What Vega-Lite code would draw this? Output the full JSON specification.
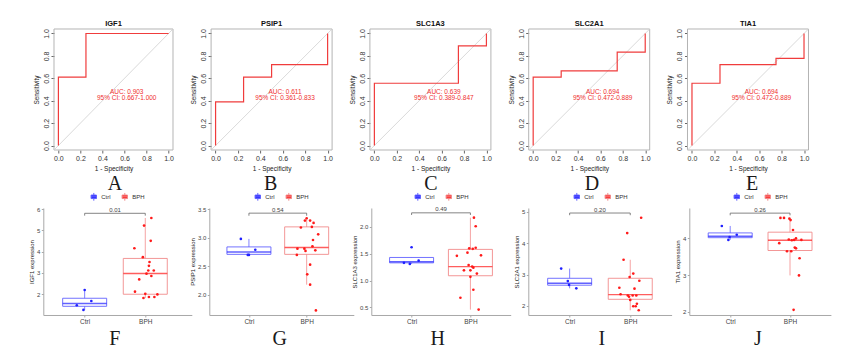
{
"$schema": "https://vega.github.io/schema/vega-lite/v6.json",
"background": "white",
"padding": {"left": 28.3, "top": 19, "right": 5, "bottom": 5},
"config": {
  "font": "Liberation Sans",
  "view": {"stroke": null},
  "axis": {"grid": false, "labelFont": "Liberation Sans", "titleFont": "Liberation Sans", "titleFontWeight": "normal", "labelOverlap": false, "labelFlush": false, "tickCount": 20},
  "title": {"font": "Liberation Sans"},
  "legend": {"layout": {"top": {"anchor": "middle"}}}
},
"datasets": {
  "auc": [
    {"gene": "IGF1", "auc": "AUC: 0.903", "ci": "95% CI: 0.667-1.000"},
    {"gene": "PSIP1", "auc": "AUC: 0.611", "ci": "95% CI: 0.361-0.833"},
    {"gene": "SLC1A3", "auc": "AUC: 0.639", "ci": "95% CI: 0.389-0.847"},
    {"gene": "SLC2A1", "auc": "AUC: 0.694", "ci": "95% CI: 0.472-0.889"},
    {"gene": "TIA1", "auc": "AUC: 0.694", "ci": "95% CI: 0.472-0.889"}
  ],
  "roc": [
    {"gene": "IGF1", "step": 1, "fpr": 0, "tpr": 0},
    {"gene": "IGF1", "step": 2, "fpr": 0, "tpr": 0.611},
    {"gene": "IGF1", "step": 3, "fpr": 0.25, "tpr": 0.611},
    {"gene": "IGF1", "step": 4, "fpr": 0.25, "tpr": 1},
    {"gene": "IGF1", "step": 5, "fpr": 1, "tpr": 1},
    {"gene": "PSIP1", "step": 1, "fpr": 0, "tpr": 0},
    {"gene": "PSIP1", "step": 2, "fpr": 0, "tpr": 0.389},
    {"gene": "PSIP1", "step": 3, "fpr": 0.25, "tpr": 0.389},
    {"gene": "PSIP1", "step": 4, "fpr": 0.25, "tpr": 0.611},
    {"gene": "PSIP1", "step": 5, "fpr": 0.5, "tpr": 0.611},
    {"gene": "PSIP1", "step": 6, "fpr": 0.5, "tpr": 0.722},
    {"gene": "PSIP1", "step": 7, "fpr": 1, "tpr": 0.722},
    {"gene": "PSIP1", "step": 8, "fpr": 1, "tpr": 1},
    {"gene": "SLC1A3", "step": 1, "fpr": 0, "tpr": 0},
    {"gene": "SLC1A3", "step": 2, "fpr": 0, "tpr": 0.556},
    {"gene": "SLC1A3", "step": 3, "fpr": 0.75, "tpr": 0.556},
    {"gene": "SLC1A3", "step": 4, "fpr": 0.75, "tpr": 0.889},
    {"gene": "SLC1A3", "step": 5, "fpr": 1, "tpr": 0.889},
    {"gene": "SLC1A3", "step": 6, "fpr": 1, "tpr": 1},
    {"gene": "SLC2A1", "step": 1, "fpr": 0, "tpr": 0},
    {"gene": "SLC2A1", "step": 2, "fpr": 0, "tpr": 0.611},
    {"gene": "SLC2A1", "step": 3, "fpr": 0.25, "tpr": 0.611},
    {"gene": "SLC2A1", "step": 4, "fpr": 0.25, "tpr": 0.667},
    {"gene": "SLC2A1", "step": 5, "fpr": 0.75, "tpr": 0.667},
    {"gene": "SLC2A1", "step": 6, "fpr": 0.75, "tpr": 0.833},
    {"gene": "SLC2A1", "step": 7, "fpr": 1, "tpr": 0.833},
    {"gene": "SLC2A1", "step": 8, "fpr": 1, "tpr": 1},
    {"gene": "TIA1", "step": 1, "fpr": 0, "tpr": 0},
    {"gene": "TIA1", "step": 2, "fpr": 0, "tpr": 0.556},
    {"gene": "TIA1", "step": 3, "fpr": 0.25, "tpr": 0.556},
    {"gene": "TIA1", "step": 4, "fpr": 0.25, "tpr": 0.722},
    {"gene": "TIA1", "step": 5, "fpr": 0.75, "tpr": 0.722},
    {"gene": "TIA1", "step": 6, "fpr": 0.75, "tpr": 0.778},
    {"gene": "TIA1", "step": 7, "fpr": 1, "tpr": 0.778},
    {"gene": "TIA1", "step": 8, "fpr": 1, "tpr": 1}
  ],
  "box": [
    {"gene": "IGF1", "group": "Ctrl", "pos": 1, "lower": 1.25, "q1": 1.42, "median": 1.55, "q3": 1.80, "upper": 2.19},
    {"gene": "IGF1", "group": "BPH", "pos": 2, "lower": 1.81, "q1": 1.99, "median": 2.97, "q3": 3.68, "upper": 5.59},
    {"gene": "PSIP1", "group": "Ctrl", "pos": 1, "lower": 2.70, "q1": 2.71, "median": 2.75, "q3": 2.84, "upper": 2.98},
    {"gene": "PSIP1", "group": "BPH", "pos": 2, "lower": 2.18, "q1": 2.71, "median": 2.83, "q3": 3.19, "upper": 3.34},
    {"gene": "SLC1A3", "group": "Ctrl", "pos": 1, "lower": 1.31, "q1": 1.33, "median": 1.35, "q3": 1.43, "upper": 1.43},
    {"gene": "SLC1A3", "group": "BPH", "pos": 2, "lower": 0.46, "q1": 1.09, "median": 1.26, "q3": 1.58, "upper": 2.17},
    {"gene": "SLC2A1", "group": "Ctrl", "pos": 1, "lower": 2.56, "q1": 2.66, "median": 2.72, "q3": 2.88, "upper": 3.19},
    {"gene": "SLC2A1", "group": "BPH", "pos": 2, "lower": 1.86, "q1": 2.21, "median": 2.36, "q3": 2.88, "upper": 3.47},
    {"gene": "TIA1", "group": "Ctrl", "pos": 1, "lower": 3.96, "q1": 4.02, "median": 4.06, "q3": 4.15, "upper": 4.34},
    {"gene": "TIA1", "group": "BPH", "pos": 2, "lower": 2.99, "q1": 3.67, "median": 3.95, "q3": 4.17, "upper": 4.56}
  ],
  "sig": [
    {"gene": "IGF1", "p": "0.01", "y": 5.81, "yend": 5.70},
    {"gene": "PSIP1", "p": "0.54", "y": 3.43, "yend": 3.385},
    {"gene": "SLC1A3", "p": "0.49", "y": 2.26, "yend": 2.22},
    {"gene": "SLC2A1", "p": "0.20", "y": 4.96, "yend": 4.89},
    {"gene": "TIA1", "p": "0.26", "y": 4.69, "yend": 4.63}
  ],
  "pts": [
    {"gene": "IGF1", "group": "Ctrl", "x": 1.00, "value": 2.19},
    {"gene": "IGF1", "group": "Ctrl", "x": 1.11, "value": 1.67},
    {"gene": "IGF1", "group": "Ctrl", "x": 0.87, "value": 1.47},
    {"gene": "IGF1", "group": "Ctrl", "x": 0.98, "value": 1.25},
    {"gene": "IGF1", "group": "BPH", "x": 2.10, "value": 5.59},
    {"gene": "IGF1", "group": "BPH", "x": 1.98, "value": 5.23},
    {"gene": "IGF1", "group": "BPH", "x": 2.09, "value": 4.51},
    {"gene": "IGF1", "group": "BPH", "x": 1.82, "value": 4.16},
    {"gene": "IGF1", "group": "BPH", "x": 1.96, "value": 3.74},
    {"gene": "IGF1", "group": "BPH", "x": 2.07, "value": 3.51},
    {"gene": "IGF1", "group": "BPH", "x": 2.06, "value": 3.33},
    {"gene": "IGF1", "group": "BPH", "x": 2.05, "value": 3.11},
    {"gene": "IGF1", "group": "BPH", "x": 2.14, "value": 3.11},
    {"gene": "IGF1", "group": "BPH", "x": 2.10, "value": 2.85},
    {"gene": "IGF1", "group": "BPH", "x": 1.90, "value": 2.69},
    {"gene": "IGF1", "group": "BPH", "x": 1.83, "value": 2.11},
    {"gene": "IGF1", "group": "BPH", "x": 2.00, "value": 2.01},
    {"gene": "IGF1", "group": "BPH", "x": 2.20, "value": 1.98},
    {"gene": "IGF1", "group": "BPH", "x": 1.97, "value": 1.81},
    {"gene": "IGF1", "group": "BPH", "x": 2.06, "value": 1.86},
    {"gene": "IGF1", "group": "BPH", "x": 2.15, "value": 1.86},
    {"gene": "IGF1", "group": "BPH", "x": 2.02, "value": 2.96},
    {"gene": "PSIP1", "group": "Ctrl", "x": 0.86, "value": 2.98},
    {"gene": "PSIP1", "group": "Ctrl", "x": 1.11, "value": 2.79},
    {"gene": "PSIP1", "group": "Ctrl", "x": 0.98, "value": 2.70},
    {"gene": "PSIP1", "group": "Ctrl", "x": 1.00, "value": 2.70},
    {"gene": "PSIP1", "group": "BPH", "x": 2.00, "value": 3.34},
    {"gene": "PSIP1", "group": "BPH", "x": 2.06, "value": 3.30},
    {"gene": "PSIP1", "group": "BPH", "x": 1.97, "value": 3.30},
    {"gene": "PSIP1", "group": "BPH", "x": 2.12, "value": 3.26},
    {"gene": "PSIP1", "group": "BPH", "x": 1.90, "value": 3.18},
    {"gene": "PSIP1", "group": "BPH", "x": 2.09, "value": 3.19},
    {"gene": "PSIP1", "group": "BPH", "x": 2.20, "value": 3.06},
    {"gene": "PSIP1", "group": "BPH", "x": 2.11, "value": 2.96},
    {"gene": "PSIP1", "group": "BPH", "x": 2.10, "value": 2.85},
    {"gene": "PSIP1", "group": "BPH", "x": 1.84, "value": 2.81},
    {"gene": "PSIP1", "group": "BPH", "x": 1.96, "value": 2.81},
    {"gene": "PSIP1", "group": "BPH", "x": 1.98, "value": 2.77},
    {"gene": "PSIP1", "group": "BPH", "x": 2.15, "value": 2.78},
    {"gene": "PSIP1", "group": "BPH", "x": 1.83, "value": 2.70},
    {"gene": "PSIP1", "group": "BPH", "x": 2.06, "value": 2.53},
    {"gene": "PSIP1", "group": "BPH", "x": 2.01, "value": 2.36},
    {"gene": "PSIP1", "group": "BPH", "x": 2.06, "value": 2.18},
    {"gene": "PSIP1", "group": "BPH", "x": 2.16, "value": 1.73},
    {"gene": "SLC1A3", "group": "Ctrl", "x": 1.00, "value": 1.62},
    {"gene": "SLC1A3", "group": "Ctrl", "x": 0.87, "value": 1.33},
    {"gene": "SLC1A3", "group": "Ctrl", "x": 1.12, "value": 1.37},
    {"gene": "SLC1A3", "group": "Ctrl", "x": 0.97, "value": 1.31},
    {"gene": "SLC1A3", "group": "BPH", "x": 2.06, "value": 2.17},
    {"gene": "SLC1A3", "group": "BPH", "x": 2.09, "value": 2.01},
    {"gene": "SLC1A3", "group": "BPH", "x": 1.98, "value": 1.60},
    {"gene": "SLC1A3", "group": "BPH", "x": 2.09, "value": 1.61},
    {"gene": "SLC1A3", "group": "BPH", "x": 2.04, "value": 1.59},
    {"gene": "SLC1A3", "group": "BPH", "x": 1.95, "value": 1.52},
    {"gene": "SLC1A3", "group": "BPH", "x": 2.18, "value": 1.47},
    {"gene": "SLC1A3", "group": "BPH", "x": 1.77, "value": 1.46},
    {"gene": "SLC1A3", "group": "BPH", "x": 1.97, "value": 1.29},
    {"gene": "SLC1A3", "group": "BPH", "x": 2.05, "value": 1.24},
    {"gene": "SLC1A3", "group": "BPH", "x": 1.89, "value": 1.19},
    {"gene": "SLC1A3", "group": "BPH", "x": 2.00, "value": 1.19},
    {"gene": "SLC1A3", "group": "BPH", "x": 2.11, "value": 1.13},
    {"gene": "SLC1A3", "group": "BPH", "x": 2.00, "value": 1.07},
    {"gene": "SLC1A3", "group": "BPH", "x": 2.05, "value": 0.83},
    {"gene": "SLC1A3", "group": "BPH", "x": 1.83, "value": 0.68},
    {"gene": "SLC1A3", "group": "BPH", "x": 2.14, "value": 0.46},
    {"gene": "SLC1A3", "group": "BPH", "x": 2.03, "value": 1.26},
    {"gene": "SLC2A1", "group": "Ctrl", "x": 0.86, "value": 3.19},
    {"gene": "SLC2A1", "group": "Ctrl", "x": 0.97, "value": 2.79},
    {"gene": "SLC2A1", "group": "Ctrl", "x": 0.99, "value": 2.67},
    {"gene": "SLC2A1", "group": "Ctrl", "x": 1.11, "value": 2.56},
    {"gene": "SLC2A1", "group": "BPH", "x": 2.18, "value": 4.81},
    {"gene": "SLC2A1", "group": "BPH", "x": 1.95, "value": 4.32},
    {"gene": "SLC2A1", "group": "BPH", "x": 1.89, "value": 3.47},
    {"gene": "SLC2A1", "group": "BPH", "x": 2.05, "value": 3.03},
    {"gene": "SLC2A1", "group": "BPH", "x": 1.99, "value": 2.92},
    {"gene": "SLC2A1", "group": "BPH", "x": 2.15, "value": 2.80},
    {"gene": "SLC2A1", "group": "BPH", "x": 1.82, "value": 2.58},
    {"gene": "SLC2A1", "group": "BPH", "x": 2.07, "value": 2.55},
    {"gene": "SLC2A1", "group": "BPH", "x": 1.84, "value": 2.37},
    {"gene": "SLC2A1", "group": "BPH", "x": 1.96, "value": 2.33},
    {"gene": "SLC2A1", "group": "BPH", "x": 1.98, "value": 2.29},
    {"gene": "SLC2A1", "group": "BPH", "x": 2.04, "value": 2.33},
    {"gene": "SLC2A1", "group": "BPH", "x": 2.10, "value": 2.33},
    {"gene": "SLC2A1", "group": "BPH", "x": 2.00, "value": 2.19},
    {"gene": "SLC2A1", "group": "BPH", "x": 2.11, "value": 2.07},
    {"gene": "SLC2A1", "group": "BPH", "x": 2.05, "value": 1.99},
    {"gene": "SLC2A1", "group": "BPH", "x": 2.09, "value": 1.99},
    {"gene": "SLC2A1", "group": "BPH", "x": 2.14, "value": 1.86},
    {"gene": "TIA1", "group": "Ctrl", "x": 0.86, "value": 4.34},
    {"gene": "TIA1", "group": "Ctrl", "x": 1.11, "value": 4.10},
    {"gene": "TIA1", "group": "Ctrl", "x": 0.99, "value": 4.04},
    {"gene": "TIA1", "group": "Ctrl", "x": 0.97, "value": 3.96},
    {"gene": "TIA1", "group": "BPH", "x": 1.84, "value": 4.56},
    {"gene": "TIA1", "group": "BPH", "x": 1.90, "value": 4.56},
    {"gene": "TIA1", "group": "BPH", "x": 1.99, "value": 4.54},
    {"gene": "TIA1", "group": "BPH", "x": 2.01, "value": 4.50},
    {"gene": "TIA1", "group": "BPH", "x": 2.05, "value": 4.23},
    {"gene": "TIA1", "group": "BPH", "x": 1.82, "value": 3.87},
    {"gene": "TIA1", "group": "BPH", "x": 1.98, "value": 3.97},
    {"gene": "TIA1", "group": "BPH", "x": 2.07, "value": 3.96},
    {"gene": "TIA1", "group": "BPH", "x": 2.10, "value": 4.00},
    {"gene": "TIA1", "group": "BPH", "x": 2.19, "value": 3.96},
    {"gene": "TIA1", "group": "BPH", "x": 2.08, "value": 3.75},
    {"gene": "TIA1", "group": "BPH", "x": 2.10, "value": 3.73},
    {"gene": "TIA1", "group": "BPH", "x": 1.95, "value": 3.65},
    {"gene": "TIA1", "group": "BPH", "x": 2.02, "value": 3.65},
    {"gene": "TIA1", "group": "BPH", "x": 2.16, "value": 3.46},
    {"gene": "TIA1", "group": "BPH", "x": 2.15, "value": 2.99},
    {"gene": "TIA1", "group": "BPH", "x": 2.06, "value": 2.05},
    {"gene": "TIA1", "group": "BPH", "x": 2.03, "value": 3.95}
  ]
},
"spacing": 2,
"vconcat": [
{
"hconcat": [
{
 "width": 129.7, "height": 121,
 "title": {"text": "IGF1", "fontSize": 7.5, "fontWeight": "bold", "offset": 1.5, "frame": "group", "dx": 5.35, "color": "#111"},
 "layer": [
  {"data": {"name": "auc"}, "transform": [{"filter": "datum.gene === 'IGF1'"}],
   "mark": {"type": "rect", "filled": false, "color": "#b4b4b4", "strokeWidth": 1},
   "encoding": {
    "x": {"datum": -0.04, "type": "quantitative", "scale": {"domain": [-0.1371, 1.04], "nice": false, "zero": false},
      "axis": {"values": [0, 0.2, 0.4, 0.6, 0.8, 1], "tickCount": 20, "format": ".1f", "title": "1 - Specificity", "titleX": 70.2, "domain": false, "tickSize": 3, "tickColor": "#666", "labelFontSize": 7, "labelColor": "#333", "labelPadding": 1.5, "labelOverlap": false, "titleFontSize": 6.5, "titleColor": "#222", "titlePadding": 4}},
    "y": {"datum": -0.04, "type": "quantitative", "scale": {"domain": [-0.04, 1.04], "nice": false, "zero": false},
      "axis": {"values": [0, 0.2, 0.4, 0.6, 0.8, 1], "tickCount": 20, "format": ".1f", "title": "Sensitivity", "offset": -10.7, "domain": false, "tickSize": 3, "tickColor": "#666", "labelFontSize": 7, "labelColor": "#333", "labelPadding": 1.5, "labelOverlap": false, "labelAngle": -90, "labelAlign": "center", "labelBaseline": "bottom", "titleFontSize": 6.5, "titleColor": "#222", "titlePadding": 3}},
    "x2": {"datum": 1.04}, "y2": {"datum": 1.04}}},
  {"data": {"name": "auc"}, "transform": [{"filter": "datum.gene === 'IGF1'"}],
   "mark": {"type": "rule", "color": "#cfcfcf", "strokeWidth": 0.8},
   "encoding": {"x": {"datum": -0.04, "type": "quantitative"}, "y": {"datum": -0.04, "type": "quantitative"}, "x2": {"datum": 1.04}, "y2": {"datum": 1.04}}},
  {"data": {"name": "roc"}, "transform": [{"filter": "datum.gene === 'IGF1'"}],
   "mark": {"type": "line", "color": "#f03c3c", "strokeWidth": 1.2},
   "encoding": {"x": {"field": "fpr", "type": "quantitative"}, "y": {"field": "tpr", "type": "quantitative"}, "order": {"field": "step", "type": "quantitative"}}},
  {"data": {"name": "auc"}, "transform": [{"filter": "datum.gene === 'IGF1'"}],
   "mark": {"type": "text", "color": "#f03030", "fontSize": 6.5},
   "encoding": {"x": {"datum": 0.62, "type": "quantitative"}, "y": {"datum": 0.479, "type": "quantitative"}, "text": {"field": "auc"}}},
  {"data": {"name": "auc"}, "transform": [{"filter": "datum.gene === 'IGF1'"}],
   "mark": {"type": "text", "color": "#f03030", "fontSize": 6.5},
   "encoding": {"x": {"datum": 0.62, "type": "quantitative"}, "y": {"datum": 0.425, "type": "quantitative"}, "text": {"field": "ci"}}}
 ]
},
{
 "width": 121, "height": 121,
 "title": {"text": "PSIP1", "fontSize": 7.5, "fontWeight": "bold", "offset": 1.5, "frame": "group", "color": "#111"},
 "layer": [
  {"data": {"name": "auc"}, "transform": [{"filter": "datum.gene === 'PSIP1'"}],
   "mark": {"type": "rect", "filled": false, "color": "#b4b4b4", "strokeWidth": 1},
   "encoding": {
    "x": {"datum": -0.04, "type": "quantitative", "scale": {"domain": [-0.04, 1.04], "nice": false, "zero": false},
      "axis": {"values": [0, 0.2, 0.4, 0.6, 0.8, 1], "tickCount": 20, "format": ".1f", "title": "1 - Specificity", "domain": false, "tickSize": 3, "tickColor": "#666", "labelFontSize": 7, "labelColor": "#333", "labelPadding": 1.5, "labelOverlap": false, "titleFontSize": 6.5, "titleColor": "#222", "titlePadding": 4}},
    "y": {"datum": -0.04, "type": "quantitative", "scale": {"domain": [-0.04, 1.04], "nice": false, "zero": false},
      "axis": {"values": [0, 0.2, 0.4, 0.6, 0.8, 1], "tickCount": 20, "format": ".1f", "title": "Sensitivity", "domain": false, "tickSize": 3, "tickColor": "#666", "labelFontSize": 7, "labelColor": "#333", "labelPadding": 1.5, "labelOverlap": false, "labelAngle": -90, "labelAlign": "center", "labelBaseline": "bottom", "titleFontSize": 6.5, "titleColor": "#222", "titlePadding": 3}},
    "x2": {"datum": 1.04}, "y2": {"datum": 1.04}}},
  {"data": {"name": "auc"}, "transform": [{"filter": "datum.gene === 'PSIP1'"}],
   "mark": {"type": "rule", "color": "#cfcfcf", "strokeWidth": 0.8},
   "encoding": {"x": {"datum": -0.04, "type": "quantitative"}, "y": {"datum": -0.04, "type": "quantitative"}, "x2": {"datum": 1.04}, "y2": {"datum": 1.04}}},
  {"data": {"name": "roc"}, "transform": [{"filter": "datum.gene === 'PSIP1'"}],
   "mark": {"type": "line", "color": "#f03c3c", "strokeWidth": 1.2},
   "encoding": {"x": {"field": "fpr", "type": "quantitative"}, "y": {"field": "tpr", "type": "quantitative"}, "order": {"field": "step", "type": "quantitative"}}},
  {"data": {"name": "auc"}, "transform": [{"filter": "datum.gene === 'PSIP1'"}],
   "mark": {"type": "text", "color": "#f03030", "fontSize": 6.5},
   "encoding": {"x": {"datum": 0.62, "type": "quantitative"}, "y": {"datum": 0.479, "type": "quantitative"}, "text": {"field": "auc"}}},
  {"data": {"name": "auc"}, "transform": [{"filter": "datum.gene === 'PSIP1'"}],
   "mark": {"type": "text", "color": "#f03030", "fontSize": 6.5},
   "encoding": {"x": {"datum": 0.62, "type": "quantitative"}, "y": {"datum": 0.425, "type": "quantitative"}, "text": {"field": "ci"}}}
 ]
},
{
 "width": 121, "height": 121,
 "title": {"text": "SLC1A3", "fontSize": 7.5, "fontWeight": "bold", "offset": 1.5, "frame": "group", "color": "#111"},
 "layer": [
  {"data": {"name": "auc"}, "transform": [{"filter": "datum.gene === 'SLC1A3'"}],
   "mark": {"type": "rect", "filled": false, "color": "#b4b4b4", "strokeWidth": 1},
   "encoding": {
    "x": {"datum": -0.04, "type": "quantitative", "scale": {"domain": [-0.04, 1.04], "nice": false, "zero": false},
      "axis": {"values": [0, 0.2, 0.4, 0.6, 0.8, 1], "tickCount": 20, "format": ".1f", "title": "1 - Specificity", "domain": false, "tickSize": 3, "tickColor": "#666", "labelFontSize": 7, "labelColor": "#333", "labelPadding": 1.5, "labelOverlap": false, "titleFontSize": 6.5, "titleColor": "#222", "titlePadding": 4}},
    "y": {"datum": -0.04, "type": "quantitative", "scale": {"domain": [-0.04, 1.04], "nice": false, "zero": false},
      "axis": {"values": [0, 0.2, 0.4, 0.6, 0.8, 1], "tickCount": 20, "format": ".1f", "title": "Sensitivity", "domain": false, "tickSize": 3, "tickColor": "#666", "labelFontSize": 7, "labelColor": "#333", "labelPadding": 1.5, "labelOverlap": false, "labelAngle": -90, "labelAlign": "center", "labelBaseline": "bottom", "titleFontSize": 6.5, "titleColor": "#222", "titlePadding": 3}},
    "x2": {"datum": 1.04}, "y2": {"datum": 1.04}}},
  {"data": {"name": "auc"}, "transform": [{"filter": "datum.gene === 'SLC1A3'"}],
   "mark": {"type": "rule", "color": "#cfcfcf", "strokeWidth": 0.8},
   "encoding": {"x": {"datum": -0.04, "type": "quantitative"}, "y": {"datum": -0.04, "type": "quantitative"}, "x2": {"datum": 1.04}, "y2": {"datum": 1.04}}},
  {"data": {"name": "roc"}, "transform": [{"filter": "datum.gene === 'SLC1A3'"}],
   "mark": {"type": "line", "color": "#f03c3c", "strokeWidth": 1.2},
   "encoding": {"x": {"field": "fpr", "type": "quantitative"}, "y": {"field": "tpr", "type": "quantitative"}, "order": {"field": "step", "type": "quantitative"}}},
  {"data": {"name": "auc"}, "transform": [{"filter": "datum.gene === 'SLC1A3'"}],
   "mark": {"type": "text", "color": "#f03030", "fontSize": 6.5},
   "encoding": {"x": {"datum": 0.62, "type": "quantitative"}, "y": {"datum": 0.479, "type": "quantitative"}, "text": {"field": "auc"}}},
  {"data": {"name": "auc"}, "transform": [{"filter": "datum.gene === 'SLC1A3'"}],
   "mark": {"type": "text", "color": "#f03030", "fontSize": 6.5},
   "encoding": {"x": {"datum": 0.62, "type": "quantitative"}, "y": {"datum": 0.425, "type": "quantitative"}, "text": {"field": "ci"}}}
 ]
},
{
 "width": 121, "height": 121,
 "title": {"text": "SLC2A1", "fontSize": 7.5, "fontWeight": "bold", "offset": 1.5, "frame": "group", "color": "#111"},
 "layer": [
  {"data": {"name": "auc"}, "transform": [{"filter": "datum.gene === 'SLC2A1'"}],
   "mark": {"type": "rect", "filled": false, "color": "#b4b4b4", "strokeWidth": 1},
   "encoding": {
    "x": {"datum": -0.04, "type": "quantitative", "scale": {"domain": [-0.04, 1.04], "nice": false, "zero": false},
      "axis": {"values": [0, 0.2, 0.4, 0.6, 0.8, 1], "tickCount": 20, "format": ".1f", "title": "1 - Specificity", "domain": false, "tickSize": 3, "tickColor": "#666", "labelFontSize": 7, "labelColor": "#333", "labelPadding": 1.5, "labelOverlap": false, "titleFontSize": 6.5, "titleColor": "#222", "titlePadding": 4}},
    "y": {"datum": -0.04, "type": "quantitative", "scale": {"domain": [-0.04, 1.04], "nice": false, "zero": false},
      "axis": {"values": [0, 0.2, 0.4, 0.6, 0.8, 1], "tickCount": 20, "format": ".1f", "title": "Sensitivity", "domain": false, "tickSize": 3, "tickColor": "#666", "labelFontSize": 7, "labelColor": "#333", "labelPadding": 1.5, "labelOverlap": false, "labelAngle": -90, "labelAlign": "center", "labelBaseline": "bottom", "titleFontSize": 6.5, "titleColor": "#222", "titlePadding": 3}},
    "x2": {"datum": 1.04}, "y2": {"datum": 1.04}}},
  {"data": {"name": "auc"}, "transform": [{"filter": "datum.gene === 'SLC2A1'"}],
   "mark": {"type": "rule", "color": "#cfcfcf", "strokeWidth": 0.8},
   "encoding": {"x": {"datum": -0.04, "type": "quantitative"}, "y": {"datum": -0.04, "type": "quantitative"}, "x2": {"datum": 1.04}, "y2": {"datum": 1.04}}},
  {"data": {"name": "roc"}, "transform": [{"filter": "datum.gene === 'SLC2A1'"}],
   "mark": {"type": "line", "color": "#f03c3c", "strokeWidth": 1.2},
   "encoding": {"x": {"field": "fpr", "type": "quantitative"}, "y": {"field": "tpr", "type": "quantitative"}, "order": {"field": "step", "type": "quantitative"}}},
  {"data": {"name": "auc"}, "transform": [{"filter": "datum.gene === 'SLC2A1'"}],
   "mark": {"type": "text", "color": "#f03030", "fontSize": 6.5},
   "encoding": {"x": {"datum": 0.62, "type": "quantitative"}, "y": {"datum": 0.479, "type": "quantitative"}, "text": {"field": "auc"}}},
  {"data": {"name": "auc"}, "transform": [{"filter": "datum.gene === 'SLC2A1'"}],
   "mark": {"type": "text", "color": "#f03030", "fontSize": 6.5},
   "encoding": {"x": {"datum": 0.62, "type": "quantitative"}, "y": {"datum": 0.425, "type": "quantitative"}, "text": {"field": "ci"}}}
 ]
},
{
 "width": 121, "height": 121,
 "title": {"text": "TIA1", "fontSize": 7.5, "fontWeight": "bold", "offset": 1.5, "frame": "group", "color": "#111"},
 "layer": [
  {"data": {"name": "auc"}, "transform": [{"filter": "datum.gene === 'TIA1'"}],
   "mark": {"type": "rect", "filled": false, "color": "#b4b4b4", "strokeWidth": 1},
   "encoding": {
    "x": {"datum": -0.04, "type": "quantitative", "scale": {"domain": [-0.04, 1.04], "nice": false, "zero": false},
      "axis": {"values": [0, 0.2, 0.4, 0.6, 0.8, 1], "tickCount": 20, "format": ".1f", "title": "1 - Specificity", "domain": false, "tickSize": 3, "tickColor": "#666", "labelFontSize": 7, "labelColor": "#333", "labelPadding": 1.5, "labelOverlap": false, "titleFontSize": 6.5, "titleColor": "#222", "titlePadding": 4}},
    "y": {"datum": -0.04, "type": "quantitative", "scale": {"domain": [-0.04, 1.04], "nice": false, "zero": false},
      "axis": {"values": [0, 0.2, 0.4, 0.6, 0.8, 1], "tickCount": 20, "format": ".1f", "title": "Sensitivity", "domain": false, "tickSize": 3, "tickColor": "#666", "labelFontSize": 7, "labelColor": "#333", "labelPadding": 1.5, "labelOverlap": false, "labelAngle": -90, "labelAlign": "center", "labelBaseline": "bottom", "titleFontSize": 6.5, "titleColor": "#222", "titlePadding": 3}},
    "x2": {"datum": 1.04}, "y2": {"datum": 1.04}}},
  {"data": {"name": "auc"}, "transform": [{"filter": "datum.gene === 'TIA1'"}],
   "mark": {"type": "rule", "color": "#cfcfcf", "strokeWidth": 0.8},
   "encoding": {"x": {"datum": -0.04, "type": "quantitative"}, "y": {"datum": -0.04, "type": "quantitative"}, "x2": {"datum": 1.04}, "y2": {"datum": 1.04}}},
  {"data": {"name": "roc"}, "transform": [{"filter": "datum.gene === 'TIA1'"}],
   "mark": {"type": "line", "color": "#f03c3c", "strokeWidth": 1.2},
   "encoding": {"x": {"field": "fpr", "type": "quantitative"}, "y": {"field": "tpr", "type": "quantitative"}, "order": {"field": "step", "type": "quantitative"}}},
  {"data": {"name": "auc"}, "transform": [{"filter": "datum.gene === 'TIA1'"}],
   "mark": {"type": "text", "color": "#f03030", "fontSize": 6.5},
   "encoding": {"x": {"datum": 0.62, "type": "quantitative"}, "y": {"datum": 0.479, "type": "quantitative"}, "text": {"field": "auc"}}},
  {"data": {"name": "auc"}, "transform": [{"filter": "datum.gene === 'TIA1'"}],
   "mark": {"type": "text", "color": "#f03030", "fontSize": 6.5},
   "encoding": {"x": {"datum": 0.62, "type": "quantitative"}, "y": {"datum": 0.425, "type": "quantitative"}, "text": {"field": "ci"}}}
 ]
}
],
"spacing": 37.8,
"bounds": "flush"
},
{
"resolve": {"scale": {"stroke": "independent", "color": "independent"}, "legend": {"stroke": "independent", "color": "independent"}},
"hconcat": [
{
 "width": 148.5, "height": 107,
 "title": {"text": "A", "font": "Liberation Serif", "fontSize": 20, "fontWeight": "normal", "color": "#1a1a1a", "dx": -2.5, "frame": "group", "offset": -2},
 "layer": [
  {"data": {"name": "box"}, "transform": [{"filter": "datum.gene === 'IGF1'"}],
   "mark": {"type": "rule", "strokeWidth": 0.8},
   "encoding": {
    "x": {"field": "pos", "type": "quantitative", "scale": {"domain": [0.4, 2.685], "nice": false, "zero": false},
      "axis": {"values": [1, 2], "tickCount": 20, "labelExpr": "datum.value === 1 ? 'Ctrl' : 'BPH'", "title": "F", "titleFont": "Liberation Serif", "titleFontSize": 20, "titleFontWeight": "normal", "titleColor": "#1a1a1a", "titlePadding": 3.3, "titleX": 71, "domainColor": "#a8a8a8", "tickColor": "#a8a8a8", "tickSize": 2, "labelFontSize": 6.5, "labelColor": "#444", "labelPadding": 2}},
    "y": {"field": "lower", "type": "quantitative", "scale": {"domain": [1.01, 6.06], "nice": false, "zero": false},
      "axis": {"values": [2, 3, 4, 5, 6], "tickCount": 20, "format": "d", "title": "IGF1 expression", "domainColor": "#a8a8a8", "tickColor": "#a8a8a8", "tickSize": 2, "labelFontSize": 6, "labelColor": "#444", "labelPadding": 1.5, "labelOverlap": false, "titleFontSize": 6, "titleColor": "#222", "titlePadding": 1.5}},
    "y2": {"field": "upper"},
    "stroke": {"field": "group", "type": "nominal", "scale": {"domain": ["Ctrl", "BPH"], "range": ["#6262ff", "#f28b8b"]},
      "legend": {"orient": "top", "direction": "horizontal", "title": null, "padding": 0, "symbolType": "M-0.7,-0.45H0.7V0.45H-0.7Z M-0.7,0H0.7 M0,-1V-0.45 M0,0.45V1", "symbolSize": 60, "symbolStrokeWidth": 1, "symbolFillColor": "white", "labelFontSize": 6, "labelColor": "#333", "offset": 5, "columnPadding": 8, "labelOffset": 3, "encode": {"symbols": {"update": {"fill": {"value": "white"}}}}}}}},
  {"data": {"name": "box"}, "transform": [{"filter": "datum.gene === 'IGF1'"}],
   "mark": {"type": "bar", "width": 44, "fill": "white", "strokeWidth": 0.9},
   "encoding": {"x": {"field": "pos", "type": "quantitative"}, "y": {"field": "q1", "type": "quantitative"}, "y2": {"field": "q3"}, "stroke": {"field": "group", "type": "nominal"}}},
  {"data": {"name": "box"}, "transform": [{"filter": "datum.gene === 'IGF1'"}],
   "mark": {"type": "tick", "orient": "horizontal", "size": 44, "thickness": 1.4},
   "encoding": {"x": {"field": "pos", "type": "quantitative"}, "y": {"field": "median", "type": "quantitative"},
     "color": {"field": "group", "type": "nominal", "scale": {"domain": ["Ctrl", "BPH"], "range": ["#2020ff", "#ff1a1a"]}, "legend": null}}},
  {"data": {"name": "pts"}, "transform": [{"filter": "datum.gene === 'IGF1'"}],
   "mark": {"type": "circle", "size": 7, "opacity": 1},
   "encoding": {"x": {"field": "x", "type": "quantitative"}, "y": {"field": "value", "type": "quantitative"}, "color": {"field": "group", "type": "nominal", "legend": null}}},
  {"data": {"name": "sig"}, "transform": [{"filter": "datum.gene === 'IGF1'"}],
   "mark": {"type": "rule", "color": "#666", "strokeWidth": 0.8},
   "encoding": {"x": {"datum": 1, "type": "quantitative"}, "x2": {"datum": 2}, "y": {"field": "y", "type": "quantitative"}}},
  {"data": {"name": "sig"}, "transform": [{"filter": "datum.gene === 'IGF1'"}],
   "mark": {"type": "rule", "color": "#666", "strokeWidth": 0.8},
   "encoding": {"x": {"datum": 1, "type": "quantitative"}, "y": {"field": "y", "type": "quantitative"}, "y2": {"field": "yend"}}},
  {"data": {"name": "sig"}, "transform": [{"filter": "datum.gene === 'IGF1'"}],
   "mark": {"type": "rule", "color": "#666", "strokeWidth": 0.8},
   "encoding": {"x": {"datum": 2, "type": "quantitative"}, "y": {"field": "y", "type": "quantitative"}, "y2": {"field": "yend"}}},
  {"data": {"name": "sig"}, "transform": [{"filter": "datum.gene === 'IGF1'"}],
   "mark": {"type": "text", "fontSize": 6, "color": "#444", "baseline": "bottom", "dy": -0.5},
   "encoding": {"x": {"datum": 1.5, "type": "quantitative"}, "y": {"field": "y", "type": "quantitative"}, "text": {"field": "p"}}}
 ]
},
{
 "width": 144.5, "height": 107,
 "title": {"text": "B", "font": "Liberation Serif", "fontSize": 20, "fontWeight": "normal", "color": "#1a1a1a", "dx": -11, "frame": "group", "offset": -2},
 "layer": [
  {"data": {"name": "box"}, "transform": [{"filter": "datum.gene === 'PSIP1'"}],
   "mark": {"type": "rule", "strokeWidth": 0.8},
   "encoding": {
    "x": {"field": "pos", "type": "quantitative", "scale": {"domain": [0.4, 2.73], "nice": false, "zero": false},
      "axis": {"values": [1, 2], "tickCount": 20, "labelExpr": "datum.value === 1 ? 'Ctrl' : 'BPH'", "title": "G", "titleFont": "Liberation Serif", "titleFontSize": 20, "titleFontWeight": "normal", "titleColor": "#1a1a1a", "titlePadding": 3.3, "titleX": 70, "domainColor": "#a8a8a8", "tickColor": "#a8a8a8", "tickSize": 2, "labelFontSize": 6.5, "labelColor": "#444", "labelPadding": 2}},
    "y": {"field": "lower", "type": "quantitative", "scale": {"domain": [1.65, 3.52], "nice": false, "zero": false},
      "axis": {"values": [2, 2.5, 3, 3.5], "tickCount": 20, "format": ".1f", "title": "PSIP1 expression", "domainColor": "#a8a8a8", "tickColor": "#a8a8a8", "tickSize": 2, "labelFontSize": 6, "labelColor": "#444", "labelPadding": 1.5, "labelOverlap": false, "titleFontSize": 6, "titleColor": "#222", "titlePadding": 1.5}},
    "y2": {"field": "upper"},
    "stroke": {"field": "group", "type": "nominal", "scale": {"domain": ["Ctrl", "BPH"], "range": ["#6262ff", "#f28b8b"]},
      "legend": {"orient": "top", "direction": "horizontal", "title": null, "padding": 0, "symbolType": "M-0.7,-0.45H0.7V0.45H-0.7Z M-0.7,0H0.7 M0,-1V-0.45 M0,0.45V1", "symbolSize": 60, "symbolStrokeWidth": 1, "symbolFillColor": "white", "labelFontSize": 6, "labelColor": "#333", "offset": 5, "columnPadding": 8, "labelOffset": 3, "encode": {"symbols": {"update": {"fill": {"value": "white"}}}}}}}},
  {"data": {"name": "box"}, "transform": [{"filter": "datum.gene === 'PSIP1'"}],
   "mark": {"type": "bar", "width": 44, "fill": "white", "strokeWidth": 0.9},
   "encoding": {"x": {"field": "pos", "type": "quantitative"}, "y": {"field": "q1", "type": "quantitative"}, "y2": {"field": "q3"}, "stroke": {"field": "group", "type": "nominal"}}},
  {"data": {"name": "box"}, "transform": [{"filter": "datum.gene === 'PSIP1'"}],
   "mark": {"type": "tick", "orient": "horizontal", "size": 44, "thickness": 1.4},
   "encoding": {"x": {"field": "pos", "type": "quantitative"}, "y": {"field": "median", "type": "quantitative"},
     "color": {"field": "group", "type": "nominal", "scale": {"domain": ["Ctrl", "BPH"], "range": ["#2020ff", "#ff1a1a"]}, "legend": null}}},
  {"data": {"name": "pts"}, "transform": [{"filter": "datum.gene === 'PSIP1'"}],
   "mark": {"type": "circle", "size": 7, "opacity": 1},
   "encoding": {"x": {"field": "x", "type": "quantitative"}, "y": {"field": "value", "type": "quantitative"}, "color": {"field": "group", "type": "nominal", "legend": null}}},
  {"data": {"name": "sig"}, "transform": [{"filter": "datum.gene === 'PSIP1'"}],
   "mark": {"type": "rule", "color": "#666", "strokeWidth": 0.8},
   "encoding": {"x": {"datum": 1, "type": "quantitative"}, "x2": {"datum": 2}, "y": {"field": "y", "type": "quantitative"}}},
  {"data": {"name": "sig"}, "transform": [{"filter": "datum.gene === 'PSIP1'"}],
   "mark": {"type": "rule", "color": "#666", "strokeWidth": 0.8},
   "encoding": {"x": {"datum": 1, "type": "quantitative"}, "y": {"field": "y", "type": "quantitative"}, "y2": {"field": "yend"}}},
  {"data": {"name": "sig"}, "transform": [{"filter": "datum.gene === 'PSIP1'"}],
   "mark": {"type": "rule", "color": "#666", "strokeWidth": 0.8},
   "encoding": {"x": {"datum": 2, "type": "quantitative"}, "y": {"field": "y", "type": "quantitative"}, "y2": {"field": "yend"}}},
  {"data": {"name": "sig"}, "transform": [{"filter": "datum.gene === 'PSIP1'"}],
   "mark": {"type": "text", "fontSize": 6, "color": "#444", "baseline": "bottom", "dy": -0.5},
   "encoding": {"x": {"datum": 1.5, "type": "quantitative"}, "y": {"field": "y", "type": "quantitative"}, "text": {"field": "p"}}}
 ]
},
{
 "width": 139.4, "height": 107,
 "title": {"text": "C", "font": "Liberation Serif", "fontSize": 20, "fontWeight": "normal", "color": "#1a1a1a", "dx": -10, "frame": "group", "offset": -2},
 "layer": [
  {"data": {"name": "box"}, "transform": [{"filter": "datum.gene === 'SLC1A3'"}],
   "mark": {"type": "rule", "strokeWidth": 0.8},
   "encoding": {
    "x": {"field": "pos", "type": "quantitative", "scale": {"domain": [0.4, 2.6], "nice": false, "zero": false},
      "axis": {"values": [1, 2], "tickCount": 20, "labelExpr": "datum.value === 1 ? 'Ctrl' : 'BPH'", "title": "H", "titleFont": "Liberation Serif", "titleFontSize": 20, "titleFontWeight": "normal", "titleColor": "#1a1a1a", "titlePadding": 3.3, "titleX": 66, "domainColor": "#a8a8a8", "tickColor": "#a8a8a8", "tickSize": 2, "labelFontSize": 6.5, "labelColor": "#444", "labelPadding": 2}},
    "y": {"field": "lower", "type": "quantitative", "scale": {"domain": [0.36, 2.35], "nice": false, "zero": false},
      "axis": {"values": [0.5, 1, 1.5, 2], "tickCount": 20, "format": ".1f", "title": "SLC1A3 expression", "domainColor": "#a8a8a8", "tickColor": "#a8a8a8", "tickSize": 2, "labelFontSize": 6, "labelColor": "#444", "labelPadding": 1.5, "labelOverlap": false, "titleFontSize": 6, "titleColor": "#222", "titlePadding": 1.5}},
    "y2": {"field": "upper"},
    "stroke": {"field": "group", "type": "nominal", "scale": {"domain": ["Ctrl", "BPH"], "range": ["#6262ff", "#f28b8b"]},
      "legend": {"orient": "top", "direction": "horizontal", "title": null, "padding": 0, "symbolType": "M-0.7,-0.45H0.7V0.45H-0.7Z M-0.7,0H0.7 M0,-1V-0.45 M0,0.45V1", "symbolSize": 60, "symbolStrokeWidth": 1, "symbolFillColor": "white", "labelFontSize": 6, "labelColor": "#333", "offset": 5, "columnPadding": 8, "labelOffset": 3, "encode": {"symbols": {"update": {"fill": {"value": "white"}}}}}}}},
  {"data": {"name": "box"}, "transform": [{"filter": "datum.gene === 'SLC1A3'"}],
   "mark": {"type": "bar", "width": 44, "fill": "white", "strokeWidth": 0.9},
   "encoding": {"x": {"field": "pos", "type": "quantitative"}, "y": {"field": "q1", "type": "quantitative"}, "y2": {"field": "q3"}, "stroke": {"field": "group", "type": "nominal"}}},
  {"data": {"name": "box"}, "transform": [{"filter": "datum.gene === 'SLC1A3'"}],
   "mark": {"type": "tick", "orient": "horizontal", "size": 44, "thickness": 1.4},
   "encoding": {"x": {"field": "pos", "type": "quantitative"}, "y": {"field": "median", "type": "quantitative"},
     "color": {"field": "group", "type": "nominal", "scale": {"domain": ["Ctrl", "BPH"], "range": ["#2020ff", "#ff1a1a"]}, "legend": null}}},
  {"data": {"name": "pts"}, "transform": [{"filter": "datum.gene === 'SLC1A3'"}],
   "mark": {"type": "circle", "size": 7, "opacity": 1},
   "encoding": {"x": {"field": "x", "type": "quantitative"}, "y": {"field": "value", "type": "quantitative"}, "color": {"field": "group", "type": "nominal", "legend": null}}},
  {"data": {"name": "sig"}, "transform": [{"filter": "datum.gene === 'SLC1A3'"}],
   "mark": {"type": "rule", "color": "#666", "strokeWidth": 0.8},
   "encoding": {"x": {"datum": 1, "type": "quantitative"}, "x2": {"datum": 2}, "y": {"field": "y", "type": "quantitative"}}},
  {"data": {"name": "sig"}, "transform": [{"filter": "datum.gene === 'SLC1A3'"}],
   "mark": {"type": "rule", "color": "#666", "strokeWidth": 0.8},
   "encoding": {"x": {"datum": 1, "type": "quantitative"}, "y": {"field": "y", "type": "quantitative"}, "y2": {"field": "yend"}}},
  {"data": {"name": "sig"}, "transform": [{"filter": "datum.gene === 'SLC1A3'"}],
   "mark": {"type": "rule", "color": "#666", "strokeWidth": 0.8},
   "encoding": {"x": {"datum": 2, "type": "quantitative"}, "y": {"field": "y", "type": "quantitative"}, "y2": {"field": "yend"}}},
  {"data": {"name": "sig"}, "transform": [{"filter": "datum.gene === 'SLC1A3'"}],
   "mark": {"type": "text", "fontSize": 6, "color": "#444", "baseline": "bottom", "dy": -0.5},
   "encoding": {"x": {"datum": 1.5, "type": "quantitative"}, "y": {"field": "y", "type": "quantitative"}, "text": {"field": "p"}}}
 ]
},
{
 "width": 143.3, "height": 107,
 "title": {"text": "D", "font": "Liberation Serif", "fontSize": 20, "fontWeight": "normal", "color": "#1a1a1a", "dx": -8, "frame": "group", "offset": -2},
 "layer": [
  {"data": {"name": "box"}, "transform": [{"filter": "datum.gene === 'SLC2A1'"}],
   "mark": {"type": "rule", "strokeWidth": 0.8},
   "encoding": {
    "x": {"field": "pos", "type": "quantitative", "scale": {"domain": [0.4, 2.6], "nice": false, "zero": false},
      "axis": {"values": [1, 2], "tickCount": 20, "labelExpr": "datum.value === 1 ? 'Ctrl' : 'BPH'", "title": "I", "titleFont": "Liberation Serif", "titleFontSize": 20, "titleFontWeight": "normal", "titleColor": "#1a1a1a", "titlePadding": 3.3, "titleX": 73, "domainColor": "#a8a8a8", "tickColor": "#a8a8a8", "tickSize": 2, "labelFontSize": 6.5, "labelColor": "#444", "labelPadding": 2}},
    "y": {"field": "lower", "type": "quantitative", "scale": {"domain": [1.71, 5.12], "nice": false, "zero": false},
      "axis": {"values": [2, 3, 4, 5], "tickCount": 20, "format": "d", "title": "SLC2A1 expression", "domainColor": "#a8a8a8", "tickColor": "#a8a8a8", "tickSize": 2, "labelFontSize": 6, "labelColor": "#444", "labelPadding": 1.5, "labelOverlap": false, "titleFontSize": 6, "titleColor": "#222", "titlePadding": 1.5}},
    "y2": {"field": "upper"},
    "stroke": {"field": "group", "type": "nominal", "scale": {"domain": ["Ctrl", "BPH"], "range": ["#6262ff", "#f28b8b"]},
      "legend": {"orient": "top", "direction": "horizontal", "title": null, "padding": 0, "symbolType": "M-0.7,-0.45H0.7V0.45H-0.7Z M-0.7,0H0.7 M0,-1V-0.45 M0,0.45V1", "symbolSize": 60, "symbolStrokeWidth": 1, "symbolFillColor": "white", "labelFontSize": 6, "labelColor": "#333", "offset": 5, "columnPadding": 8, "labelOffset": 3, "encode": {"symbols": {"update": {"fill": {"value": "white"}}}}}}}},
  {"data": {"name": "box"}, "transform": [{"filter": "datum.gene === 'SLC2A1'"}],
   "mark": {"type": "bar", "width": 44, "fill": "white", "strokeWidth": 0.9},
   "encoding": {"x": {"field": "pos", "type": "quantitative"}, "y": {"field": "q1", "type": "quantitative"}, "y2": {"field": "q3"}, "stroke": {"field": "group", "type": "nominal"}}},
  {"data": {"name": "box"}, "transform": [{"filter": "datum.gene === 'SLC2A1'"}],
   "mark": {"type": "tick", "orient": "horizontal", "size": 44, "thickness": 1.4},
   "encoding": {"x": {"field": "pos", "type": "quantitative"}, "y": {"field": "median", "type": "quantitative"},
     "color": {"field": "group", "type": "nominal", "scale": {"domain": ["Ctrl", "BPH"], "range": ["#2020ff", "#ff1a1a"]}, "legend": null}}},
  {"data": {"name": "pts"}, "transform": [{"filter": "datum.gene === 'SLC2A1'"}],
   "mark": {"type": "circle", "size": 7, "opacity": 1},
   "encoding": {"x": {"field": "x", "type": "quantitative"}, "y": {"field": "value", "type": "quantitative"}, "color": {"field": "group", "type": "nominal", "legend": null}}},
  {"data": {"name": "sig"}, "transform": [{"filter": "datum.gene === 'SLC2A1'"}],
   "mark": {"type": "rule", "color": "#666", "strokeWidth": 0.8},
   "encoding": {"x": {"datum": 1, "type": "quantitative"}, "x2": {"datum": 2}, "y": {"field": "y", "type": "quantitative"}}},
  {"data": {"name": "sig"}, "transform": [{"filter": "datum.gene === 'SLC2A1'"}],
   "mark": {"type": "rule", "color": "#666", "strokeWidth": 0.8},
   "encoding": {"x": {"datum": 1, "type": "quantitative"}, "y": {"field": "y", "type": "quantitative"}, "y2": {"field": "yend"}}},
  {"data": {"name": "sig"}, "transform": [{"filter": "datum.gene === 'SLC2A1'"}],
   "mark": {"type": "rule", "color": "#666", "strokeWidth": 0.8},
   "encoding": {"x": {"datum": 2, "type": "quantitative"}, "y": {"field": "y", "type": "quantitative"}, "y2": {"field": "yend"}}},
  {"data": {"name": "sig"}, "transform": [{"filter": "datum.gene === 'SLC2A1'"}],
   "mark": {"type": "text", "fontSize": 6, "color": "#444", "baseline": "bottom", "dy": -0.5},
   "encoding": {"x": {"datum": 1.5, "type": "quantitative"}, "y": {"field": "y", "type": "quantitative"}, "text": {"field": "p"}}}
 ]
},
{
 "width": 141.6, "height": 107,
 "title": {"text": "E", "font": "Liberation Serif", "fontSize": 20, "fontWeight": "normal", "color": "#1a1a1a", "dx": -8, "frame": "group", "offset": -2},
 "layer": [
  {"data": {"name": "box"}, "transform": [{"filter": "datum.gene === 'TIA1'"}],
   "mark": {"type": "rule", "strokeWidth": 0.8},
   "encoding": {
    "x": {"field": "pos", "type": "quantitative", "scale": {"domain": [0.4, 2.6], "nice": false, "zero": false},
      "axis": {"values": [1, 2], "tickCount": 20, "labelExpr": "datum.value === 1 ? 'Ctrl' : 'BPH'", "title": "J", "titleFont": "Liberation Serif", "titleFontSize": 20, "titleFontWeight": "normal", "titleColor": "#1a1a1a", "titlePadding": 3.3, "titleX": 68, "domainColor": "#a8a8a8", "tickColor": "#a8a8a8", "tickSize": 2, "labelFontSize": 6.5, "labelColor": "#444", "labelPadding": 2}},
    "y": {"field": "lower", "type": "quantitative", "scale": {"domain": [1.91, 4.83], "nice": false, "zero": false},
      "axis": {"values": [2, 3, 4], "tickCount": 20, "format": "d", "title": "TIA1 expression", "domainColor": "#a8a8a8", "tickColor": "#a8a8a8", "tickSize": 2, "labelFontSize": 6, "labelColor": "#444", "labelPadding": 1.5, "labelOverlap": false, "titleFontSize": 6, "titleColor": "#222", "titlePadding": 1.5}},
    "y2": {"field": "upper"},
    "stroke": {"field": "group", "type": "nominal", "scale": {"domain": ["Ctrl", "BPH"], "range": ["#6262ff", "#f28b8b"]},
      "legend": {"orient": "top", "direction": "horizontal", "title": null, "padding": 0, "symbolType": "M-0.7,-0.45H0.7V0.45H-0.7Z M-0.7,0H0.7 M0,-1V-0.45 M0,0.45V1", "symbolSize": 60, "symbolStrokeWidth": 1, "symbolFillColor": "white", "labelFontSize": 6, "labelColor": "#333", "offset": 5, "columnPadding": 8, "labelOffset": 3, "encode": {"symbols": {"update": {"fill": {"value": "white"}}}}}}}},
  {"data": {"name": "box"}, "transform": [{"filter": "datum.gene === 'TIA1'"}],
   "mark": {"type": "bar", "width": 44, "fill": "white", "strokeWidth": 0.9},
   "encoding": {"x": {"field": "pos", "type": "quantitative"}, "y": {"field": "q1", "type": "quantitative"}, "y2": {"field": "q3"}, "stroke": {"field": "group", "type": "nominal"}}},
  {"data": {"name": "box"}, "transform": [{"filter": "datum.gene === 'TIA1'"}],
   "mark": {"type": "tick", "orient": "horizontal", "size": 44, "thickness": 1.4},
   "encoding": {"x": {"field": "pos", "type": "quantitative"}, "y": {"field": "median", "type": "quantitative"},
     "color": {"field": "group", "type": "nominal", "scale": {"domain": ["Ctrl", "BPH"], "range": ["#2020ff", "#ff1a1a"]}, "legend": null}}},
  {"data": {"name": "pts"}, "transform": [{"filter": "datum.gene === 'TIA1'"}],
   "mark": {"type": "circle", "size": 7, "opacity": 1},
   "encoding": {"x": {"field": "x", "type": "quantitative"}, "y": {"field": "value", "type": "quantitative"}, "color": {"field": "group", "type": "nominal", "legend": null}}},
  {"data": {"name": "sig"}, "transform": [{"filter": "datum.gene === 'TIA1'"}],
   "mark": {"type": "rule", "color": "#666", "strokeWidth": 0.8},
   "encoding": {"x": {"datum": 1, "type": "quantitative"}, "x2": {"datum": 2}, "y": {"field": "y", "type": "quantitative"}}},
  {"data": {"name": "sig"}, "transform": [{"filter": "datum.gene === 'TIA1'"}],
   "mark": {"type": "rule", "color": "#666", "strokeWidth": 0.8},
   "encoding": {"x": {"datum": 1, "type": "quantitative"}, "y": {"field": "y", "type": "quantitative"}, "y2": {"field": "yend"}}},
  {"data": {"name": "sig"}, "transform": [{"filter": "datum.gene === 'TIA1'"}],
   "mark": {"type": "rule", "color": "#666", "strokeWidth": 0.8},
   "encoding": {"x": {"datum": 2, "type": "quantitative"}, "y": {"field": "y", "type": "quantitative"}, "y2": {"field": "yend"}}},
  {"data": {"name": "sig"}, "transform": [{"filter": "datum.gene === 'TIA1'"}],
   "mark": {"type": "text", "fontSize": 6, "color": "#444", "baseline": "bottom", "dy": -0.5},
   "encoding": {"x": {"datum": 1.5, "type": "quantitative"}, "y": {"field": "y", "type": "quantitative"}, "text": {"field": "p"}}}
 ]
}
],
"spacing": 17,
"bounds": "flush"
}
]
}
